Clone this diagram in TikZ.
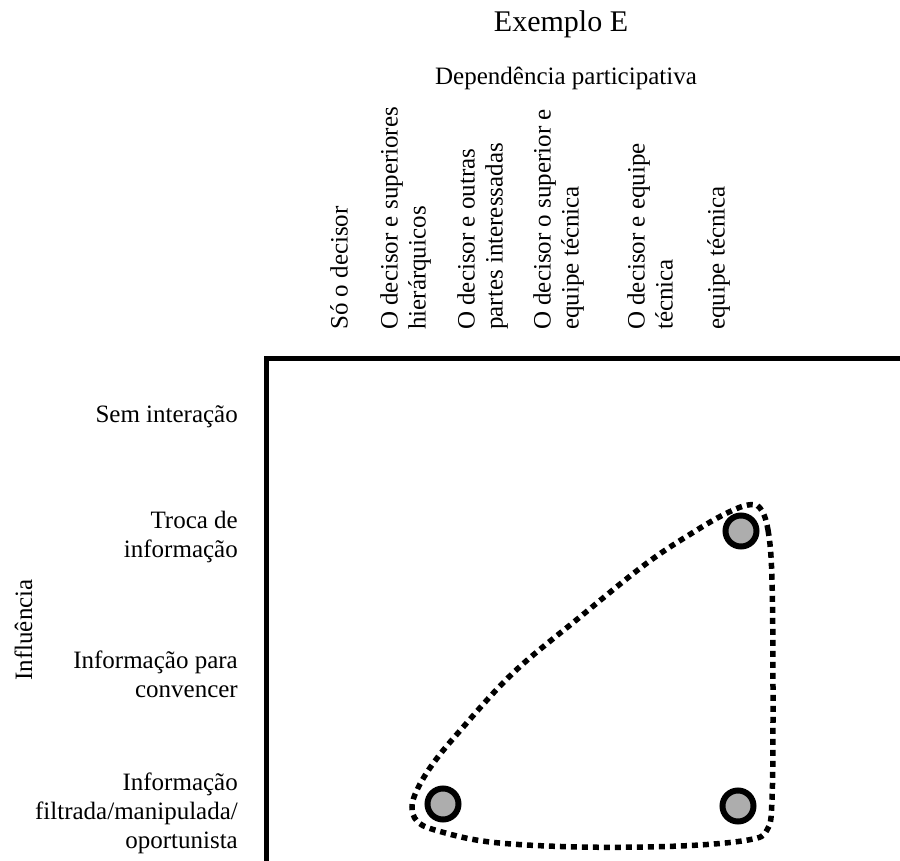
\documentclass[tikz,border=0pt]{standalone}
\usepackage{fontspec}
\setmainfont{Liberation Serif}
\begin{document}
\begin{tikzpicture}[x=1pt,y=-1pt,
  lbl/.style={font=\fontsize{25}{29}\selectfont, inner sep=0pt},
  collbl/.style={inner sep=0pt, rotate=90, anchor=north west, align=left, font=\fontsize{25}{28}\selectfont},
  rowlbl/.style={lbl, align=right, anchor=north east},
  axisline/.style={line width=5pt},
  actor/.style={circle, draw, line width=6pt, fill=black!32, minimum size=31pt, inner sep=0pt},
  grouping/.style={line width=5.5pt, dash pattern=on 6pt off 5pt}]
\fill[white] (0,0) rectangle (900,861);
\useasboundingbox (0,0) rectangle (900,861);

% titles
\node[font=\fontsize{30}{34}\selectfont, inner sep=0pt, anchor=base] (title) at (561,32) {Exemplo E};
\node[lbl, anchor=base] (dep) at (566,85) {Dependência participativa};

% column headings (rotated)
\node[collbl] (c1) at (330,330) {Só o decisor};
\node[collbl] (c2) at (380,330) {O decisor e superiores\\hierárquicos};
\node[collbl] (c3) at (457,330) {O decisor e outras\\partes interessadas};
\node[collbl] (c4) at (533,330) {O decisor o superior e\\equipe técnica};
\node[collbl] (c5) at (627,330) {O decisor e equipe\\técnica};
\node[collbl] (c6) at (707,330) {equipe técnica};

% row headings
\node[lbl, anchor=base east] (r1) at (238,422) {Sem interação};
\node[rowlbl] (r2) at (238,511) {Troca de\\informação};
\node[rowlbl] (r3) at (238,651) {Informação para\\convencer};
\node[rowlbl] (r4) at (238,773) {Informação\\filtrada/manipulada/\\oportunista};
\node[lbl, rotate=90, anchor=base] (infl) at (32,630) {Influência};

% axes
\coordinate (origin) at (266,358);
\coordinate (yend) at (266,861);
\coordinate (xend) at (900,358);
\draw[axisline] (yend) -- (origin) -- (xend);

% actors
\node[actor] (a1) at (741,531) {};
\node[actor] (a2) at (443,804) {};
\node[actor] (a3) at (738,806) {};

% grouping outline
\draw[grouping] plot[smooth cycle, tension=0.6] coordinates {
  (760,508) (768,530) (772,580) (773,700) (772,800) (767,830) (748,840)
  (680,846) (580,847) (490,842) (435,830) (417,821) (412,807) (417,790)
  (432,765) (458,733) (513,673) (580,617) (647,563) (697,530) (727,513) (748,505)};
\end{tikzpicture}
\end{document}
